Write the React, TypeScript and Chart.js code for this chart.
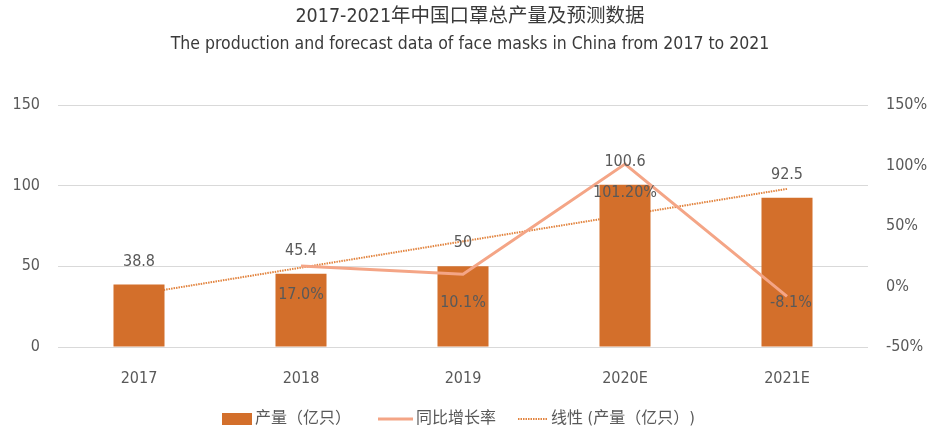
import React, { useEffect, useRef } from "react";
import { Chart, registerables } from "chart.js";

Chart.register(...registerables);

const categories = ["2017", "2018", "2019", "2020E", "2021E"];
const production = [38.8, 45.4, 50, 100.6, 92.5];
const growth = [null, 17.0, 10.1, 101.2, -8.1];
const growthLabels = ["", "17.0%", "10.1%", "101.20%", "-8.1%"];
const trend = [32.9, 49.2, 65.5, 81.7, 98.0];
const titleText = "2017-2021年中国口罩总产量及预测数据";
const subtitleText = "The production and forecast data of face masks in China from 2017 to 2021";
const legendLabels = ["产量（亿只）", "同比增长率", "线性 (产量（亿只）)"];

const BAR = "#D36F2B";
const LINE = "#F4A586";
const TREND = "#E2843F";
const TEXT = "#595959";
const FONT = "'DejaVu Sans Condensed', 'Noto Sans CJK SC', sans-serif";

const overlay = {
  id: "overlay",
  afterDatasetsDraw(chart: any) {
    const ctx = chart.ctx;
    ctx.save();
    ctx.fillStyle = TEXT;
    ctx.textAlign = "center";
    ctx.textBaseline = "middle";
    ctx.font = `16px ${FONT}`;
    const barMeta = chart.getDatasetMeta(1);
    barMeta.data.forEach((el: any, i: number) => {
      ctx.fillText(String(production[i]), el.x, el.y - 23);
    });
    const lineMeta = chart.getDatasetMeta(0);
    lineMeta.data.forEach((el: any, i: number) => {
      if (growth[i] == null) return;
      const last = i === growth.length - 1;
      ctx.fillText(growthLabels[i], el.x + (last ? 4 : 0), el.y + (last ? 7 : 29));
    });
    ctx.restore();
  },
  afterDraw(chart: any) {
    const ctx = chart.ctx;
    ctx.save();
    ctx.fillStyle = "#3a3a3a";
    ctx.textAlign = "center";
    ctx.textBaseline = "middle";
    ctx.font = `19.5px ${FONT}`;
    ctx.fillText(titleText, 470, 17);
    ctx.font = `17.5px ${FONT}`;
    ctx.fillText(subtitleText, 470, 44);

    // legend
    ctx.font = `16px ${FONT}`;
    ctx.textAlign = "left";
    const ly = 419;
    ctx.fillStyle = BAR;
    ctx.fillRect(222, 413, 30, 12);
    ctx.fillStyle = TEXT;
    ctx.fillText(legendLabels[0], 255, ly);
    ctx.strokeStyle = LINE;
    ctx.lineWidth = 3;
    ctx.beginPath();
    ctx.moveTo(378, ly);
    ctx.lineTo(413, ly);
    ctx.stroke();
    ctx.fillText(legendLabels[1], 416, ly);
    ctx.strokeStyle = TREND;
    ctx.lineWidth = 2;
    ctx.setLineDash([1.5, 1]);
    ctx.beginPath();
    ctx.moveTo(518, ly);
    ctx.lineTo(548, ly);
    ctx.stroke();
    ctx.setLineDash([]);
    ctx.fillText(legendLabels[2], 551, ly);
    ctx.restore();
  },
};

export default function App() {
  const ref = useRef<HTMLCanvasElement>(null);
  useEffect(() => {
    if (!ref.current) return;
    const chart = new Chart(ref.current, {
      type: "bar",
      data: {
        labels: categories,
        datasets: [
          {
            type: "line",
            label: legendLabels[1],
            data: growth as any,
            yAxisID: "y1",
            borderColor: LINE,
            backgroundColor: LINE,
            borderWidth: 3,
            pointRadius: 0,
            tension: 0,
            order: 0,
          },
          {
            type: "bar",
            label: legendLabels[0],
            data: production,
            yAxisID: "y",
            backgroundColor: BAR,
            barPercentage: 0.315,
            categoryPercentage: 1,
            order: 1,
          },
          {
            type: "line",
            label: legendLabels[2],
            data: trend,
            yAxisID: "y",
            borderColor: TREND,
            borderWidth: 2,
            borderDash: [1.5, 1],
            pointRadius: 0,
            tension: 0,
            order: 2,
          },
        ],
      },
      options: {
        responsive: false,
        animation: false,
        layout: { padding: { top: 105, bottom: 0, left: 0, right: 0 } },
        plugins: {
          legend: { display: false },
          title: { display: false },
          tooltip: { enabled: false },
        },
        scales: {
          x: {
            grid: { display: false, drawTicks: false },
            border: { display: false },
            ticks: { color: TEXT, font: { family: FONT, size: 16 }, padding: 22 },
            afterFit: (s: any) => { s.height = 87; },
          },
          y: {
            position: "left",
            min: 0,
            max: 150,
            ticks: { stepSize: 50, color: TEXT, font: { family: FONT, size: 16 }, padding: 18 },
            grid: { color: "#D9D9D9", lineWidth: 1, drawTicks: false },
            border: { display: false },
            afterFit: (s: any) => { s.width = 58; },
          },
          y1: {
            position: "right",
            min: -50,
            max: 150,
            ticks: {
              stepSize: 50,
              color: TEXT,
              font: { family: FONT, size: 16 },
              padding: 18,
              callback: (v: any) => `${v}%`,
            },
            grid: { display: false, drawTicks: false },
            border: { display: false },
            afterFit: (s: any) => { s.width = 73; },
          },
        },
      },
      plugins: [overlay],
    });
    return () => chart.destroy();
  }, []);
  return (
    <div style={{ position: "fixed", left: 0, top: 0, width: 941, height: 434, background: "#fff" }}>
      <canvas ref={ref} width={941} height={434} />
    </div>
  );
}
